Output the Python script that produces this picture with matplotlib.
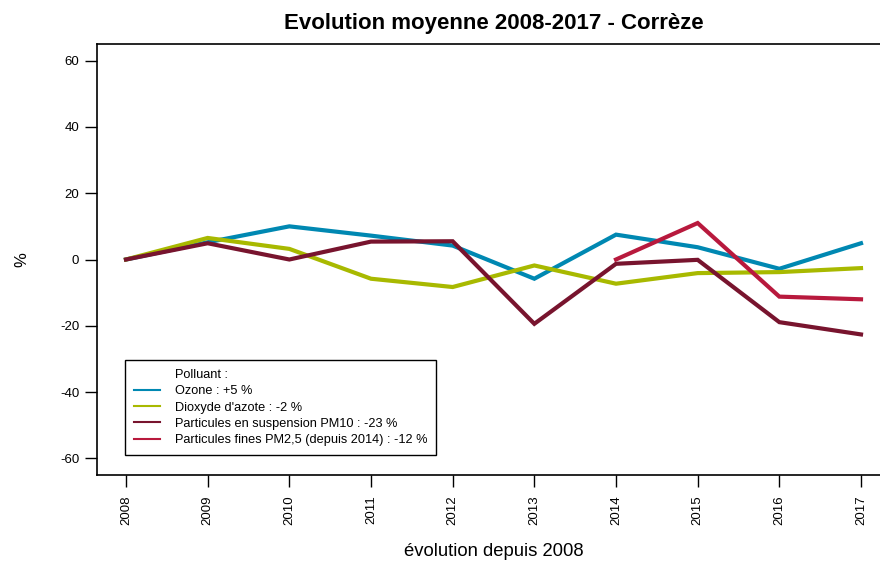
import numpy as np
import matplotlib.pyplot as plt
from matplotlib.lines import Line2D

plt.rcParams['font.family'] = ['Liberation Sans', 'DejaVu Sans']
plt.rcParams['axes.unicode_minus'] = False

# ------ DONNEES
annees = [2008, 2009, 2010, 2011, 2012, 2013, 2014, 2015, 2016, 2017]
ozone = [0, 5.2, 10.0, 7.2, 4.2, -5.8, 7.5, 3.7, -2.8, 4.9]
no2 = [0, 6.5, 3.2, -5.8, -8.3, -1.8, -7.3, -4.1, -3.8, -2.6]
pm10 = [0, 4.9, 0.0, 5.4, 5.5, -19.4, -1.3, -0.1, -18.9, -22.6]
annees_pm25 = [2014, 2015, 2016, 2017]
pm25 = [0, 11.0, -11.2, -12.0]

libelles = ["Ozone : +5 %",
            "Dioxyde d'azote : -2 %",
            "Particules en suspension PM10 : -23 %",
            "Particules fines PM2,5 (depuis 2014) : -12 %"]
couleurs = ['#0088b2', '#a8b900', '#78142e', '#b8193d']

fig = plt.figure(figsize=(8.8, 5.62), dpi=100)
ax = fig.add_axes([96.6 / 880, 1 - 475 / 562, 793.8 / 880, 431 / 562])

series = [(annees, ozone), (annees, no2), (annees, pm10), (annees_pm25, pm25)]
for (x, y), c in zip(series, couleurs):
    ax.plot(x, y, color=c, lw=3, solid_joinstyle='miter')

ax.set_xlim(2007.64, 2017.36)
ax.set_ylim(-65, 65)
ax.set_yticks(np.arange(-60, 61, 20))
ax.set_xticks(annees)
ax.set_xticklabels([str(a) for a in annees], rotation=90)
ax.tick_params(axis='both', labelsize=9.5, length=8.5, width=1, direction='out', pad=4)
ax.tick_params(axis='x', pad=6)
for s in ax.spines.values():
    s.set_linewidth(1.2)

ax.set_title("Evolution moyenne 2008-2017 - Corrèze", fontsize=16, fontweight='bold', pad=11)
ax.set_ylabel("%", fontsize=12, labelpad=22)
ax.set_xlabel("évolution depuis 2008", fontsize=13.3, labelpad=13)

# legende : premiere ligne = titre sans trait
poignees = [Line2D([], [], color='none')] + [Line2D([], [], color=c, lw=1.5) for c in couleurs]
textes = ["Polluant :"] + libelles
leg = ax.legend(poignees, textes, loc='lower left',
                bbox_to_anchor=((125 - 96.6) / 793.8, (475 - 455) / 431),
                borderaxespad=0, fontsize=9.2, frameon=True, fancybox=False,
                edgecolor='black', framealpha=1, handlelength=2.0, borderpad=0.7,
                labelspacing=0.33, handletextpad=1.2)
leg.get_frame().set_linewidth(1.0)

fig.savefig('out.png', dpi=100)
